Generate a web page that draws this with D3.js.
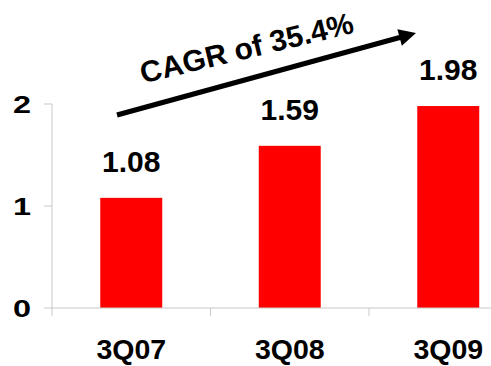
<!DOCTYPE html>
<html>
<head>
<meta charset="utf-8">
<script src="https://cdn.jsdelivr.net/npm/d3@7/dist/d3.min.js"></script>
<style>
  html, body { margin: 0; padding: 0; background: #fff; }
  svg { display: block; font-family: "Liberation Sans", Arial, sans-serif; font-weight: bold; }
</style>
</head>
<body>
<svg id="chart" width="491" height="366"></svg>
<script>
// Quarterly values
const categories = ["3Q07", "3Q08", "3Q09"];
const values = [1.08, 1.59, 1.98];
const yTicks = [0, 1, 2];
const valueLabels = ["1.08", "1.59", "1.98"];
const growthNote = "CAGR of 35.4%";

const svg = d3.select("#chart");
const W = 491, H = 366;

const x = d3.scaleBand()
  .domain(categories)
  .range([52, 527.5])
  .paddingInner(0.609)
  .paddingOuter(0.3045);

const y = d3.scaleLinear()
  .domain([0, 2])
  .range([308, 104]);

const axisColor = "#c8c8c8";

// Bars
svg.append("g").selectAll("rect")
  .data(values)
  .join("rect")
  .attr("x", (d, i) => x(categories[i]))
  .attr("y", d => y(d))
  .attr("width", x.bandwidth())
  .attr("height", d => y(0) - y(d))
  .attr("fill", "#ff0000");

// Y axis
const yAxis = svg.append("g");
yAxis.append("line")
  .attr("x1", 52).attr("x2", 52)
  .attr("y1", y(2)).attr("y2", y(0) + 8)
  .attr("stroke", axisColor).attr("stroke-width", 1);
yAxis.selectAll("line.tick")
  .data(yTicks)
  .join("line")
  .attr("class", "tick")
  .attr("x1", 44).attr("x2", 52)
  .attr("y1", d => y(d)).attr("y2", d => y(d))
  .attr("stroke", axisColor).attr("stroke-width", 1);
yAxis.selectAll("g.lab")
  .data(yTicks)
  .join("g")
  .attr("class", "lab")
  .attr("transform", d => `translate(31,${y(d)}) scale(1.35,1)`)
  .append("text")
  .attr("text-anchor", "end")
  .attr("dy", "0.36em")
  .attr("font-size", 24)
  .attr("fill", "#000")
  .text(d => d);

// X axis
const xAxis = svg.append("g");
xAxis.append("line")
  .attr("x1", 52).attr("x2", W)
  .attr("y1", y(0)).attr("y2", y(0))
  .attr("stroke", axisColor).attr("stroke-width", 1);
const bounds = categories.map(c => x(c) - x.step() * x.paddingInner() / 2);
xAxis.selectAll("line.tick")
  .data(bounds.slice(1))
  .join("line")
  .attr("class", "tick")
  .attr("x1", d => d).attr("x2", d => d)
  .attr("y1", y(0)).attr("y2", y(0) + 8)
  .attr("stroke", axisColor).attr("stroke-width", 1);
xAxis.selectAll("text")
  .data(categories)
  .join("text")
  .attr("x", d => x(d) + x.bandwidth() / 2)
  .attr("y", 359)
  .attr("text-anchor", "middle")
  .attr("font-size", 28.5)
  .attr("fill", "#000")
  .text(d => d);

// Value labels above bars
svg.append("g").selectAll("text")
  .data(values)
  .join("text")
  .attr("x", (d, i) => x(categories[i]) + x.bandwidth() / 2)
  .attr("y", d => y(d) - 26)
  .attr("text-anchor", "middle")
  .attr("font-size", 30)
  .attr("fill", "#000")
  .text((d, i) => valueLabels[i]);

// Growth arrow
const a0 = [117, 115], a1 = [416, 33];
const dx = a1[0] - a0[0], dy = a1[1] - a0[1];
const len = Math.hypot(dx, dy);
const ux = dx / len, uy = dy / len, nx = -uy, ny = ux;
const headLen = 17, headHalf = 8.5;
const base = [a1[0] - ux * headLen, a1[1] - uy * headLen];
svg.append("line")
  .attr("x1", a0[0]).attr("y1", a0[1])
  .attr("x2", base[0] + ux * 2).attr("y2", base[1] + uy * 2)
  .attr("stroke", "#000").attr("stroke-width", 5);
svg.append("path")
  .attr("d", d3.line()([
    a1,
    [base[0] + nx * headHalf, base[1] + ny * headHalf],
    [base[0] - nx * headHalf, base[1] - ny * headHalf]
  ]) + "Z")
  .attr("fill", "#000");

svg.append("text")
  .attr("transform", "translate(249,58) rotate(-13.5)")
  .attr("text-anchor", "middle")
  .attr("font-size", 30)
  .attr("fill", "#000")
  .text(growthNote);
</script>
</body>
</html>
